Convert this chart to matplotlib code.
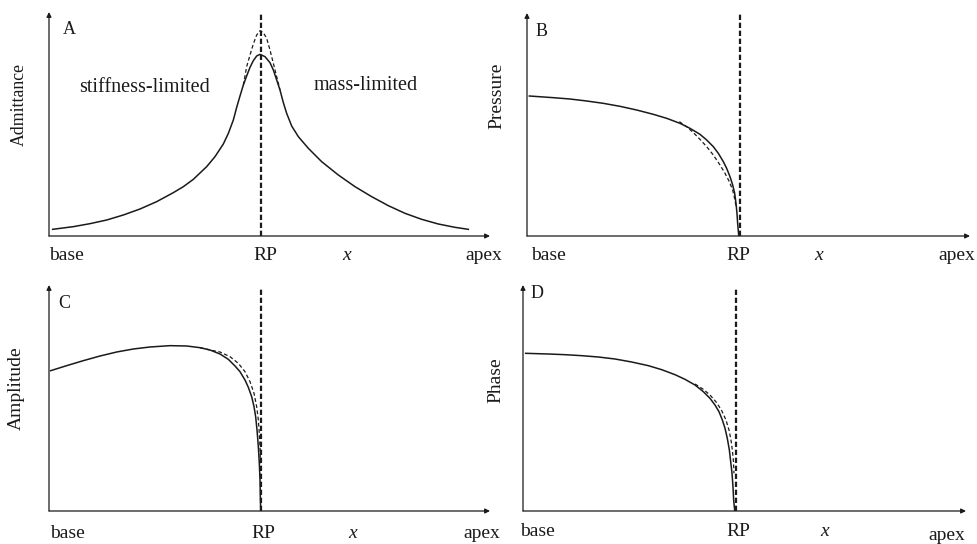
import matplotlib
matplotlib.use("Agg")
import matplotlib.pyplot as plt

plt.rcParams['font.family'] = ['Liberation Serif', 'DejaVu Serif']

W, H = 977, 544
RP = 0.48  # resonance place along the normalised cochlear axis

# A: admittance (solid = active, dashed = sharper peak)
adm_x = [0.0083, 0.0552, 0.0930, 0.1308, 0.1686, 0.2063, 0.2441, 0.2819, 0.3046,
         0.3273, 0.3575, 0.3764, 0.3953, 0.4067, 0.4180, 0.4256, 0.4331, 0.4407,
         0.4482, 0.4558, 0.4633, 0.4709, 0.4785, 0.4898, 0.5011, 0.5087, 0.5163,
         0.5238, 0.5314, 0.5389, 0.5503, 0.5654, 0.5881, 0.6183, 0.6561, 0.6939,
         0.7317, 0.7695, 0.8073, 0.8451, 0.8828, 0.9206, 0.9509]
adm_y = [0.0298, 0.0417, 0.0551, 0.0714, 0.0938, 0.1205, 0.1533, 0.1935, 0.2202,
         0.2530, 0.3095, 0.3542, 0.4107, 0.4583, 0.5179, 0.5744, 0.6250, 0.6741,
         0.7143, 0.7530, 0.7827, 0.8036, 0.8110, 0.8006, 0.7738, 0.7411, 0.6964,
         0.6518, 0.5952, 0.5476, 0.4911, 0.4435, 0.3914, 0.3318, 0.2723, 0.2202,
         0.1756, 0.1354, 0.1012, 0.0744, 0.0536, 0.0387, 0.0298]
adm2_x = [0.4407, 0.4482, 0.4558, 0.4633, 0.4709, 0.4785, 0.4860, 0.4936, 0.5011,
          0.5087, 0.5163, 0.5238]
adm2_y = [0.6741, 0.7560, 0.8080, 0.8571, 0.8973, 0.9167, 0.9077, 0.8824, 0.8304,
          0.7708, 0.7113, 0.6518]

# B: pressure
prs_x = [0.0053, 0.0594, 0.0971, 0.1347, 0.1723, 0.2099, 0.2476, 0.2852, 0.3153,
         0.3454, 0.3679, 0.3905, 0.4056, 0.4206, 0.4319, 0.4432, 0.4507, 0.4582,
         0.4643, 0.4688, 0.4718, 0.4740, 0.4755, 0.4780]
prs_y = [0.6278, 0.6203, 0.6143, 0.6054, 0.5949, 0.5815, 0.5650, 0.5456, 0.5277,
         0.5052, 0.4828, 0.4559, 0.4305, 0.4006, 0.3707, 0.3333, 0.3034, 0.2661,
         0.2287, 0.1913, 0.1465, 0.1017, 0.0568, 0.0]
prs2_x = [0.3439, 0.3604, 0.3755, 0.3905, 0.4056, 0.4206, 0.4357, 0.4470, 0.4567,
          0.4643, 0.4695, 0.4718]
prs2_y = [0.5127, 0.4903, 0.4634, 0.4335, 0.4006, 0.3632, 0.3184, 0.2810, 0.2436,
          0.2063, 0.1614, 0.1315]

# C: amplitude
amp_x = [0.0038, 0.0401, 0.0778, 0.1156, 0.1534, 0.1912, 0.2290, 0.2744, 0.3122,
         0.3424, 0.3651, 0.3878, 0.4066, 0.4218, 0.4331, 0.4444, 0.4520, 0.4596,
         0.4649, 0.4686, 0.4717, 0.4747, 0.4769, 0.4785, 0.4792, 0.4800]
amp_y = [0.6209, 0.6431, 0.6652, 0.6858, 0.7035, 0.7168, 0.7257, 0.7316, 0.7301,
         0.7227, 0.7124, 0.6947, 0.6711, 0.6416, 0.6165, 0.5796, 0.5472, 0.5059,
         0.4617, 0.4174, 0.3584, 0.2847, 0.2109, 0.1372, 0.0634, 0.0]
amp2_x = [0.3424, 0.3651, 0.3878, 0.4104, 0.4293, 0.4444, 0.4558, 0.4649, 0.4709,
          0.4747, 0.4769, 0.4785, 0.4792]
amp2_y = [0.7227, 0.7124, 0.7035, 0.6829, 0.6534, 0.6165, 0.5723, 0.5206, 0.4617,
          0.4027, 0.3437, 0.2847, 0.2109]

# D: phase
phs_x = [0.0060, 0.0572, 0.0948, 0.1324, 0.1700, 0.2077, 0.2453, 0.2829, 0.3130,
         0.3431, 0.3657, 0.3883, 0.4071, 0.4221, 0.4334, 0.4424, 0.4500, 0.4560,
         0.4612, 0.4658, 0.4688, 0.4718, 0.4740, 0.4755, 0.4780]
phs_y = [0.6977, 0.6947, 0.6917, 0.6873, 0.6814, 0.6726, 0.6593, 0.6431, 0.6254,
         0.6032, 0.5826, 0.5575, 0.5280, 0.4985, 0.4690, 0.4395, 0.4027, 0.3658,
         0.3215, 0.2699, 0.2183, 0.1667, 0.1077, 0.0487, 0.0]
phs2_x = [0.3883, 0.4071, 0.4221, 0.4372, 0.4485, 0.4582, 0.4650, 0.4695, 0.4725,
          0.4748, 0.4763]
phs2_y = [0.5619, 0.5383, 0.5133, 0.4794, 0.4440, 0.4027, 0.3584, 0.3142, 0.2699,
          0.2257, 0.1667]

INK = '#1a1a1a'

fig = plt.figure(figsize=(W / 100, H / 100), dpi=100)


def px(x, y):
    return x / W, 1 - y / H


def panel(x0, y0, x1, y1, rp_top):
    # x0,y0 = origin of the axes in pixels, x1 = arrow tip, y1 = top arrow tip
    l, b = px(x0, y0)
    ax = fig.add_axes([l, b, (x1 - x0) / W, (y0 - y1) / H])
    ax.set_xlim(0, 1)
    ax.set_ylim(0, 1)
    ax.axis('off')
    arrow = dict(arrowstyle='-|>', lw=0.9, color=INK, mutation_scale=7,
                 shrinkA=0, shrinkB=0)
    ax.annotate('', xy=(1, 0), xytext=(0, 0), arrowprops=arrow, annotation_clip=False)
    ax.annotate('', xy=(0, 1), xytext=(0, 0), arrowprops=arrow, annotation_clip=False)
    ax.plot([RP, RP], [0, rp_top], color=INK, lw=1.6, dashes=(2.4, 1.2),
            clip_on=False)
    return ax


def txt(x, y, s, size=14, **kw):
    fig.text(*px(x, y), s, fontsize=size, color=INK, **kw)


def ticks(y, base_x, rp_x, x_x, apex_x, apex_y=None):
    txt(base_x, y, 'base', ha='left', va='center')
    txt(rp_x, y, 'RP', ha='center', va='center')
    txt(x_x, y, 'x', ha='center', va='center', style='italic')
    txt(apex_x, y if apex_y is None else apex_y, 'apex', ha='left', va='center')


solid = dict(color=INK, lw=1.1, solid_joinstyle='round')
dashed = dict(color=INK, lw=0.9, dashes=(3, 2))

# A
axA = panel(49, 236, 490, 12, 0.996)
axA.plot(adm2_x, adm2_y, **dashed)
axA.plot(adm_x, adm_y, **solid)
txt(63, 29, 'A', size=13, ha='left', va='center')
txt(144, 87, 'stiffness-limited', size=14.5, ha='center', va='center')
txt(366, 86, 'mass-limited', size=14.5, ha='center', va='center')
txt(19, 104, 'Admittance', size=12.8, ha='center', va='center', rotation=90)
ticks(256, 49, 265, 347, 465)

# B
axB = panel(527, 236, 970, 13, 0.996)
axB.plot(prs2_x, prs2_y, **dashed)
axB.plot(prs_x, prs_y, **solid)
txt(536, 32, 'B', size=13, ha='left', va='center')
txt(497, 96, 'Pressure', size=14, ha='center', va='center', rotation=90)
ticks(256, 531, 738, 819, 938)

# C
axC = panel(49, 511, 490, 285, 0.982)
axC.plot(amp2_x, amp2_y, **dashed)
axC.plot(amp_x, amp_y, **solid)
txt(58, 303, 'C', size=13, ha='left', va='center')
txt(16, 388, 'Amplitude', size=14, ha='center', va='center', rotation=90)
ticks(534, 50, 263, 353, 463)

# D
axD = panel(523, 511, 966, 285, 0.987)
axD.plot(phs2_x, phs2_y, **dashed)
axD.plot(phs_x, phs_y, **solid)
txt(531, 293, 'D', size=13, ha='left', va='center')
txt(496, 380, 'Phase', size=14, ha='center', va='center', rotation=90)
ticks(532, 520, 738, 825, 928, apex_y=535)

fig.savefig('out.png', dpi=100)
